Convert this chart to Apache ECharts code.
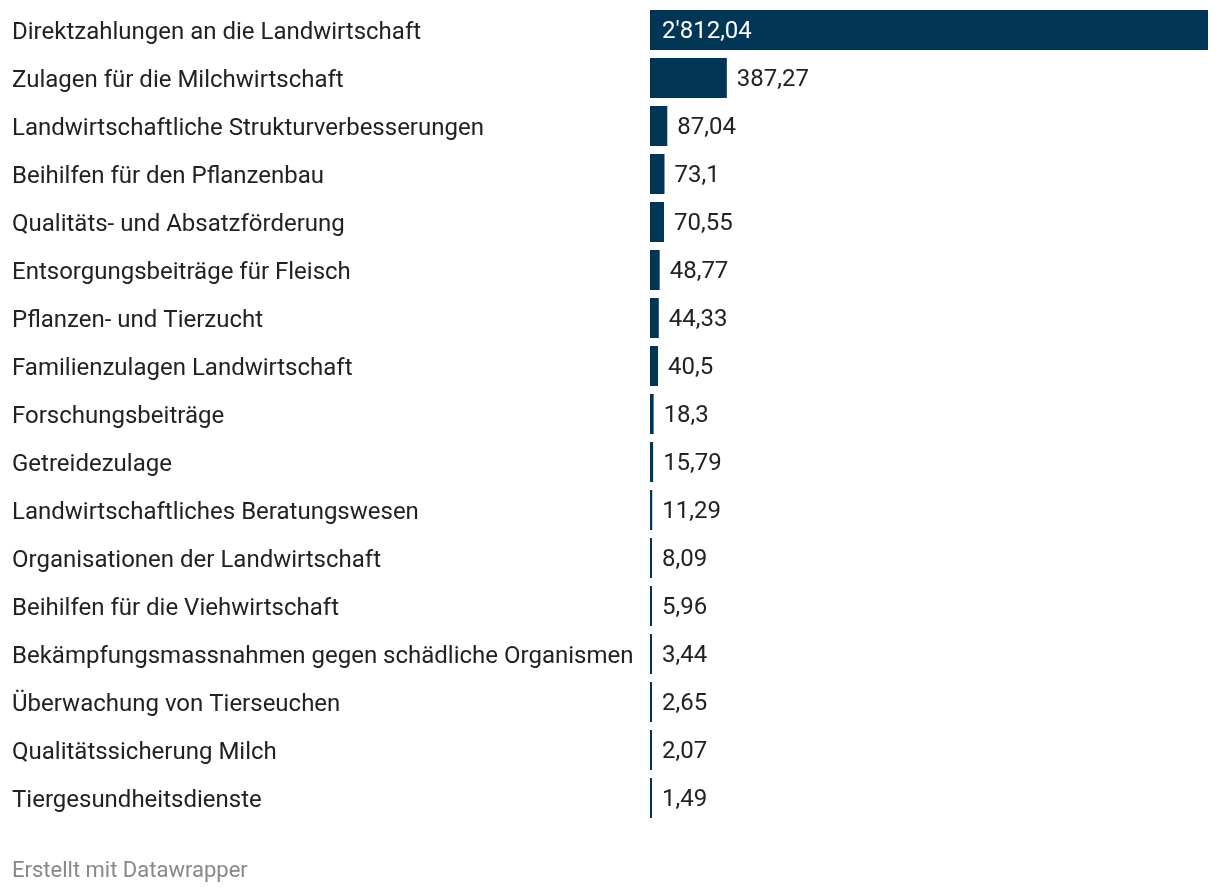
<!DOCTYPE html>
<html>
<head>
<meta charset="utf-8">
<style>
html,body{margin:0;padding:0;background:#fff;}
#chart{width:1220px;height:894px;}
</style>
<script src="https://cdn.jsdelivr.net/npm/echarts@6/dist/echarts.min.js"></script>
</head>
<body>
<div id="chart"></div>
<script>
const categories = [
  "Direktzahlungen an die Landwirtschaft",
  "Zulagen für die Milchwirtschaft",
  "Landwirtschaftliche Strukturverbesserungen",
  "Beihilfen für den Pflanzenbau",
  "Qualitäts- und Absatzförderung",
  "Entsorgungsbeiträge für Fleisch",
  "Pflanzen- und Tierzucht",
  "Familienzulagen Landwirtschaft",
  "Forschungsbeiträge",
  "Getreidezulage",
  "Landwirtschaftliches Beratungswesen",
  "Organisationen der Landwirtschaft",
  "Beihilfen für die Viehwirtschaft",
  "Bekämpfungsmassnahmen gegen schädliche Organismen",
  "Überwachung von Tierseuchen",
  "Qualitätssicherung Milch",
  "Tiergesundheitsdienste"
];
const values = [2812.04, 387.27, 87.04, 73.1, 70.55, 48.77, 44.33, 40.5, 18.3, 15.79, 11.29, 8.09, 5.96, 3.44, 2.65, 2.07, 1.49];
const footerText = "Erstellt mit Datawrapper";

function fmt(v) {
  const parts = String(v).split('.');
  const intPart = parts[0].replace(/\B(?=(\d{3})+(?!\d))/g, "'");
  return parts.length > 1 ? intPart + ',' + parts[1] : intPart;
}

const maxVal = Math.max(...values);
const seriesData = values.map((v, i) => {
  const item = { value: v };
  if (v === maxVal) {
    item.label = { position: 'insideLeft', distance: 12, color: '#ffffff' };
  }
  return item;
});

const chart = echarts.init(document.getElementById('chart'), null, { renderer: 'canvas' });
chart.setOption({
  animation: false,
  backgroundColor: '#ffffff',
  textStyle: { fontFamily: 'Roboto' },
  grid: { left: 650, right: 12, top: 6, height: 816, containLabel: false },
  xAxis: {
    type: 'value', min: 0, max: maxVal,
    show: false
  },
  yAxis: {
    type: 'category', data: categories, inverse: true,
    axisLine: { show: false }, axisTick: { show: false },
    axisLabel: {
      align: 'left', margin: 638, fontSize: 24, color: '#222222', fontFamily: 'Roboto',
      formatter: v => '{a|' + v + '}',
      rich: { a: { fontSize: 24, color: '#222222', fontFamily: 'Roboto', padding: [5, 0, 0, 0] } }
    }
  },
  series: [{
    type: 'bar',
    data: seriesData,
    barWidth: 40,
    barMinHeight: 2,
    itemStyle: { color: '#013657' },
    label: {
      show: true, position: 'right', distance: 10, offset: [0, 2],
      fontSize: 24, color: '#222222', fontFamily: 'Roboto',
      formatter: p => fmt(p.value)
    }
  }],
  graphic: [{
    type: 'text', left: 12, top: 860,
    style: { text: footerText, fontSize: 22, fill: '#888888', fontFamily: 'Roboto' }
  }]
});
</script>
</body>
</html>
